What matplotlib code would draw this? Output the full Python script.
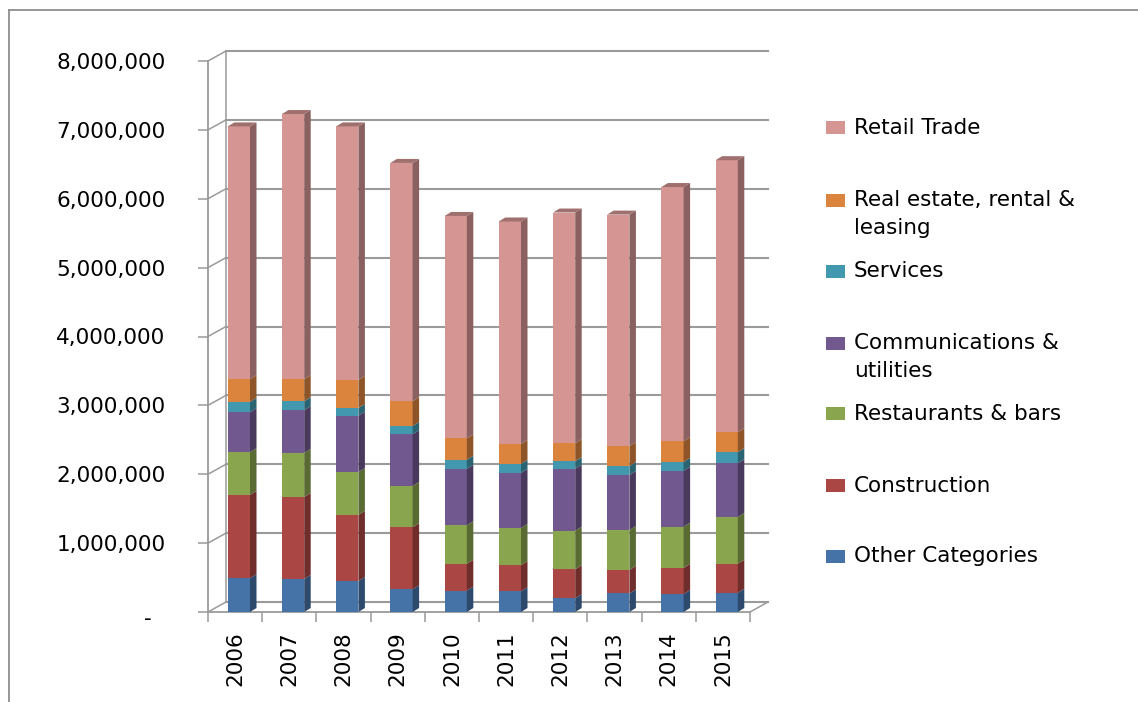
import numpy as np
import matplotlib
matplotlib.use("Agg")
import matplotlib.pyplot as plt
from matplotlib.patches import Polygon, Rectangle
from matplotlib.lines import Line2D
from matplotlib.colors import to_rgb

years = ["2006", "2007", "2008", "2009", "2010", "2011", "2012", "2013", "2014", "2015"]

# stacked series, bottom to top (values in dollars)
other = [490000, 480000, 450000, 330000, 310000, 300000, 200000, 270000, 260000, 280000]
construction = [1210000, 1190000, 960000, 900000, 390000, 380000, 420000, 340000, 380000, 420000]
restaurants = [620000, 640000, 620000, 600000, 560000, 540000, 560000, 580000, 600000, 680000]
communications = [580000, 620000, 820000, 750000, 820000, 800000, 900000, 800000, 810000, 780000]
services = [150000, 130000, 110000, 120000, 130000, 130000, 110000, 130000, 130000, 160000]
real_estate = [330000, 320000, 410000, 360000, 310000, 290000, 260000, 290000, 300000, 290000]
retail = [3670000, 3850000, 3680000, 3460000, 3230000, 3230000, 3350000, 3360000, 3690000, 3950000]

series = [other, construction, restaurants, communications, services, real_estate, retail]
labels = ["Other Categories", "Construction", "Restaurants & bars",
          "Communications &\nutilities", "Services",
          "Real estate, rental &\nleasing", "Retail Trade"]
colors = ["#4572a7", "#aa4643", "#89a54e", "#71588f", "#4198af", "#db843d", "#d49593"]

yticks = [0, 1000000, 2000000, 3000000, 4000000, 5000000, 6000000, 7000000, 8000000]

W, H = 1138, 702
fig = plt.figure(figsize=(W / 100, H / 100), dpi=100)
ax = fig.add_axes([208 / W, 90 / H, 542 / W, 551 / H])
ax.set_xlim(-0.5, 9.5)
ax.set_ylim(0, 8000000)

grey = "#9a9a9a"
px_x = 542 / 10.0          # pixels per category
px_y = 551 / 8000000.0     # pixels per dollar

# depth of the walls and of the bars (oblique projection)
dxw, dyw = 18 / px_x, 10 / px_y
dxb, dyb = 6.5 / px_x, 4 / px_y

# back wall gridlines + left wall slants
for v in yticks:
    ax.plot([-0.5 + dxw, 9.5 + dxw], [v + dyw, v + dyw], color=grey, lw=1.5,
            clip_on=False, zorder=1)
    ax.plot([-0.5, -0.5 + dxw], [v, v + dyw], color=grey, lw=1.1,
            clip_on=False, zorder=1)
ax.plot([-0.5 + dxw, -0.5 + dxw], [dyw, 8000000 + dyw], color=grey, lw=1.1,
        clip_on=False, zorder=1)
ax.plot([9.5, 9.5 + dxw], [0, dyw], color=grey, lw=1.1, clip_on=False, zorder=1)


def shade(c, f):
    r, g, b = to_rgb(c)
    return (r * f, g * f, b * f)


x = np.arange(len(years))
xc = x + 0.07
w = 0.41
bottom = np.zeros(len(years))
for k, (vals, c) in enumerate(zip(series, colors)):
    vals = np.array(vals, dtype=float)
    ax.bar(xc, vals, bottom=bottom, width=w, color=c, linewidth=0, zorder=3)
    for i in range(len(years)):
        xr = xc[i] + w / 2
        b, t = bottom[i], bottom[i] + vals[i]
        ax.add_patch(Polygon([(xr, b), (xr + dxb, b + dyb), (xr + dxb, t + dyb), (xr, t)],
                             closed=True, facecolor=shade(c, 0.65), lw=0, zorder=3))
        if k == len(series) - 1:
            xl = xc[i] - w / 2
            ax.add_patch(Polygon([(xl, t), (xl + dxb, t + dyb), (xr + dxb, t + dyb), (xr, t)],
                                 closed=True, facecolor=shade(c, 0.75), lw=0,
                                 zorder=3, clip_on=False))
    bottom += vals

# axes
for s in ["top", "right"]:
    ax.spines[s].set_visible(False)
for s in ["left", "bottom"]:
    ax.spines[s].set_color(grey)
    ax.spines[s].set_linewidth(1.3)

ax.set_yticks(yticks)
ax.set_yticklabels(["" if v == 0 else f"{v:,}" for v in yticks])
ax.tick_params(axis="y", direction="out", length=7.5, width=1.1, color=grey,
               pad=23, labelsize=15.5)
ax.text(-0.5 - 60 / px_x, -7 / px_y, "-", ha="center", va="center", fontsize=15.5)

ax.set_xticks(x)
ax.set_xticklabels(years, rotation=90, fontsize=15.5)
ax.tick_params(axis="x", which="major", length=0, pad=14)
ax.set_xticks(np.arange(-0.5, 10, 1), minor=True)
ax.tick_params(axis="x", which="minor", direction="out", length=7.5, width=1.1, color=grey)

# legend drawn by hand (top entry first)
leg_y = [127.5, 200, 271.5, 343, 413.5, 485.5, 556.5]
for lab, c, yy in zip(labels[::-1], colors[::-1], leg_y):
    fig.add_artist(Rectangle((826 / W, 1 - (yy + 6.5) / H), 19 / W, 13 / H,
                             transform=fig.transFigure, facecolor=c, lw=0))
    for j, line in enumerate(lab.split("\n")):
        fig.text(854 / W, 1 - (yy + 28 * j) / H, line, ha="left", va="center",
                 fontsize=15.5)

# chart area border (left and top edges visible)
fig.add_artist(Line2D([9 / W, 9 / W], [0, 1 - 10 / H], transform=fig.transFigure,
                      color="#8f8f8f", lw=1.3))
fig.add_artist(Line2D([9 / W, 1], [1 - 10 / H, 1 - 10 / H], transform=fig.transFigure,
                      color="#8f8f8f", lw=1.3))

fig.savefig("out.png", dpi=100)
